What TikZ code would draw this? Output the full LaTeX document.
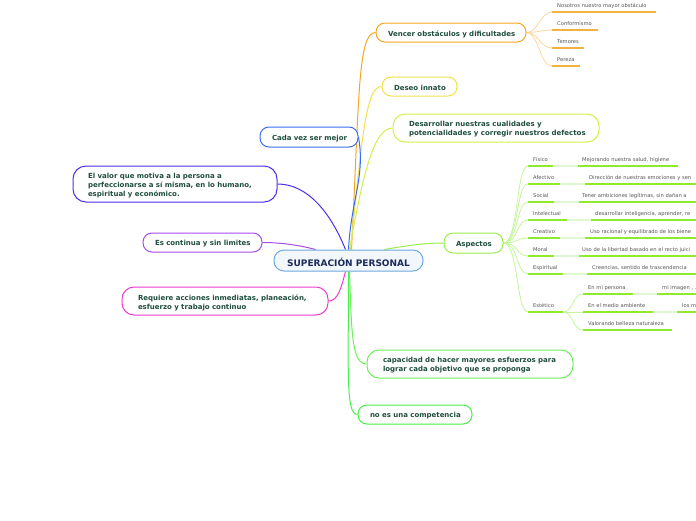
\documentclass[tikz,border=0pt]{standalone}
\usepackage{fontspec}
\setmainfont{DejaVu Sans}
\usetikzlibrary{calc}
\definecolor{nodetext}{HTML}{1F4E3D}
\definecolor{sptext}{HTML}{1A2A5A}
\definecolor{spblue}{HTML}{6FA8DC}
\definecolor{spfill}{HTML}{F2F7FC}
\definecolor{cblue}{HTML}{3A6EF0}
\definecolor{cindigo}{HTML}{4B2FE8}
\definecolor{cpurple}{HTML}{A64BEA}
\definecolor{cmagenta}{HTML}{EE3BD0}
\definecolor{corange}{HTML}{F5A623}
\definecolor{cyellow}{HTML}{F2E24A}
\definecolor{cyg}{HTML}{D2F04A}
\definecolor{clgreen}{HTML}{99EE4A}
\definecolor{cgreen1}{HTML}{6CF05A}
\definecolor{cgreen2}{HTML}{4AEE4A}
\definecolor{subtext}{HTML}{555555}
\definecolor{ulorange}{HTML}{F5B042}
\definecolor{lnorange}{HTML}{FCD79B}
\definecolor{ulgreen}{HTML}{8EEA2A}
\definecolor{ulfaded}{HTML}{E0F8CF}
\definecolor{lngreen}{HTML}{C4F59A}
\pgfdeclarelayer{bg}
\pgfsetlayers{bg,main}
\newcommand{\mmline}[1]{\raisebox{-1.5pt}[\height][\depth]{#1}}
\begin{document}
\begin{tikzpicture}[x=1pt,y=-1pt,
  box/.style={draw, rounded corners=9pt, line width=1pt, fill=white,
    font=\fontsize{7}{9}\selectfont\bfseries, text=nodetext, align=left,
    inner ysep=0pt},
  sub/.style={font=\fontsize{5.2}{6}\selectfont, text=subtext, inner sep=0pt, anchor=base west},
  link/.style={line width=1pt},
  ulo/.style={draw=ulorange, line width=1.6pt},
  lno/.style={draw=lnorange, line width=0.8pt},
  ulg/.style={draw=ulgreen, line width=1.6pt},
  ulf/.style={draw=ulfaded, line width=1.6pt},
  lng/.style={draw=lngreen, line width=0.8pt},
]
\useasboundingbox (0,0) rectangle (696,520);
\clip (0,0) rectangle (696,520);

% central node
\node[draw=spblue, line width=1pt, rounded corners=10pt, fill=spfill,
  minimum width=149pt, minimum height=21pt, inner sep=0pt,
  font=\fontsize{9}{10}\selectfont\bfseries, text=sptext] (sp) at (348.5,260.5) {\mmline{SUPERACIÓN PERSONAL}};

% main branches
\node[box, draw=cblue, text width=74pt, inner xsep=12pt, minimum height=20pt] (cada) at (309,137) {\mmline{Cada vez ser mejor}};
\node[box, draw=cindigo, text width=174pt, inner xsep=15pt, minimum height=36pt, rounded corners=13pt] (valor) at (175,184) {\mmline{El valor que motiva a la persona a}\\\mmline{perfeccionarse a sí misma, en lo humano,}\\\mmline{espiritual y económico.}};
\node[box, draw=cpurple, text width=95pt, inner xsep=12pt, minimum height=19pt] (cont) at (202.5,242.5) {\mmline{Es continua y sin limites}};
\node[box, draw=cmagenta, text width=174pt, inner xsep=16pt, minimum height=28pt, rounded corners=12pt] (req) at (225,301) {\mmline{Requiere acciones inmediatas, planeación,}\\\mmline{esfuerzo y trabajo continuo}};
\node[box, draw=corange, text width=126pt, inner xsep=12pt, minimum height=19pt] (venc) at (451,32.5) {\mmline{Vencer obstáculos y dificultades}};
\node[box, draw=cyellow, text width=51pt, inner xsep=12pt, minimum height=19pt] (deseo) at (419.5,86.5) {\mmline{Deseo innato}};
\node[box, draw=cyg, text width=174pt, inner xsep=16pt, minimum height=28pt, rounded corners=12pt] (desa) at (496,128) {\mmline{Desarrollar nuestras cualidades y}\\\mmline{potencialidades y corregir nuestros defectos}};
\node[box, draw=clgreen, text width=35pt, inner xsep=12pt, minimum height=20pt] (asp) at (473.5,243) {\mmline{Aspectos}};
\node[box, draw=cgreen1, text width=174pt, inner xsep=16pt, minimum height=28pt, rounded corners=12pt] (cap) at (470,364) {\mmline{capacidad de hacer mayores esfuerzos para}\\\mmline{lograr cada objetivo que se proponga}};
\node[box, draw=cgreen2, text width=90pt, inner xsep=12pt, minimum height=19pt] (noes) at (415,414.5) {\mmline{no es una competencia}};

\begin{pgfonlayer}{bg}
\draw[link, draw=corange] ([xshift=3pt]sp.north) to[out=87,in=180,out distance=150pt,in distance=18pt] (venc.west);
\draw[link, draw=cyellow] ([xshift=2pt]sp.north) to[out=84,in=180,out distance=110pt,in distance=16pt] (deseo.west);
\draw[link, draw=cyg] ([xshift=1pt]sp.north) to[out=80,in=180,out distance=80pt,in distance=18pt] (desa.west);
\draw[link, draw=cblue] ([xshift=0pt]sp.north) to[out=87,in=-80,out distance=50pt,in distance=40pt] (cada.east);
\draw[link, draw=cindigo] ([xshift=-3pt]sp.north) to[out=112,in=0,out distance=40pt,in distance=30pt] (valor.east);
\draw[link, draw=cpurple] ([xshift=-33pt]sp.north) to[out=165,in=0,out distance=20pt,in distance=15pt] (cont.east);
\draw[link, draw=cmagenta] ([xshift=-3pt]sp.south) to[out=-105,in=0,out distance=15pt,in distance=10pt] (req.east);
\draw[link, draw=clgreen] ([xshift=36pt]sp.north) to[out=10,in=180,out distance=20pt,in distance=20pt] (asp.west);
\draw[link, draw=cgreen1] ([xshift=1pt]sp.south) to[out=-88,in=180,out distance=60pt,in distance=15pt] (cap.west);
\draw[link, draw=cgreen2] ([xshift=0pt]sp.south) to[out=-90,in=180,out distance=100pt,in distance=12pt] (noes.west);

% Vencer sub-items
\foreach \n/\y/\e/\t in {v1/12/656/{Nosotros nuestro mayor obstáculo}, v2/30/598/{Conformismo}, v3/48/584/{Temores}, v4/66/580/{Pereza}}{
  \coordinate (a\n) at (552,\y);
  \coordinate (b\n) at (\e,\y);
  \draw[lno] (venc.east) to[out=0,in=180,out distance=12pt,in distance=12pt] (a\n);
}
% Aspectos rows
\foreach \n/\y/\le/\rs/\re in {fis/166/553/578/678, afe/184/560/585/700, soc/202/554/579/700, int/220/567/591/700, cre/238/560/585/700, mor/256/554/579/700, esp/274/563/587/700, est/312/563/563/563}{
  \coordinate (a\n) at (528,\y);
  \coordinate (b\n) at (\le,\y);
  \coordinate (c\n) at (\rs,\y);
  \coordinate (d\n) at (\re,\y);
  \draw[lng] (asp.east) to[out=0,in=180,out distance=15pt,in distance=12pt] (a\n);
}
\foreach \n/\y in {p1/294, p2/312, p3/330}{
  \coordinate (a\n) at (583,\y);
  \draw[lng] (best) to[out=0,in=180,out distance=10pt,in distance=10pt] (a\n);
}
\end{pgfonlayer}

% Vencer sub-items: underlines and texts
\foreach \n/\y/\e/\t in {v1/12/656/{Nosotros nuestro mayor obstáculo}, v2/30/598/{Conformismo}, v3/48/584/{Temores}, v4/66/580/{Pereza}}{
  \draw[ulo] (a\n) -- (b\n);
  \node[sub] (t\n) at (557,\y-5) {\t};
}

% Aspectos rows: underlines and texts
\foreach \n/\y/\lab/\rx/\txt in {
  fis/166/Físico/582/{Mejorando nuestra salud, higiene},
  afe/184/Afectivo/589/{Dirección de nuestras emociones y sen},
  soc/202/Social/582/{Tener ambiciones legítimas, sin dañan a},
  int/220/Intelectual/595/{desarrollar inteligencia, aprender, re},
  cre/238/Creativo/590/{Uso racional y equilibrado de los biene},
  mor/256/Moral/582/{Uso de la libertad basado en el recto juici},
  esp/274/Espiritual/592/{Creencias, sentido de trascendencia}}{
  \draw[ulg] (a\n) -- (b\n);
  \draw[ulf] (b\n) -- (c\n);
  \draw[ulg] (c\n) -- (d\n);
  \node[sub] (l\n) at (533,\y-5) {\lab};
  \node[sub] (r\n) at (\rx,\y-5) {\txt};
}
% Estetico
\draw[ulg] (aest) -- (best);
\node[sub] (lest) at (533,307) {Estético};
\coordinate (bp1) at (633,294); \coordinate (cp1) at (657,294); \coordinate (dp1) at (700,294);
\coordinate (bp2) at (653,312); \coordinate (cp2) at (677,312); \coordinate (dp2) at (700,312);
\coordinate (bp3) at (672,330);
\draw[ulg] (ap1) -- (bp1); \draw[ulf] (bp1) -- (cp1); \draw[ulg] (cp1) -- (dp1);
\draw[ulg] (ap2) -- (bp2); \draw[ulf] (bp2) -- (cp2); \draw[ulg] (cp2) -- (dp2);
\draw[ulg] (ap3) -- (bp3);
\node[sub] (tp1) at (588,289) {En mi persona};
\node[sub] (rp1) at (662,289) {mi imagen , .};
\node[sub] (tp2) at (588,307) {En el medio ambiente};
\node[sub] (rp2) at (682,307) {los m};
\node[sub] (tp3) at (588,325) {Valorando belleza naturaleza};
\end{tikzpicture}
\end{document}
